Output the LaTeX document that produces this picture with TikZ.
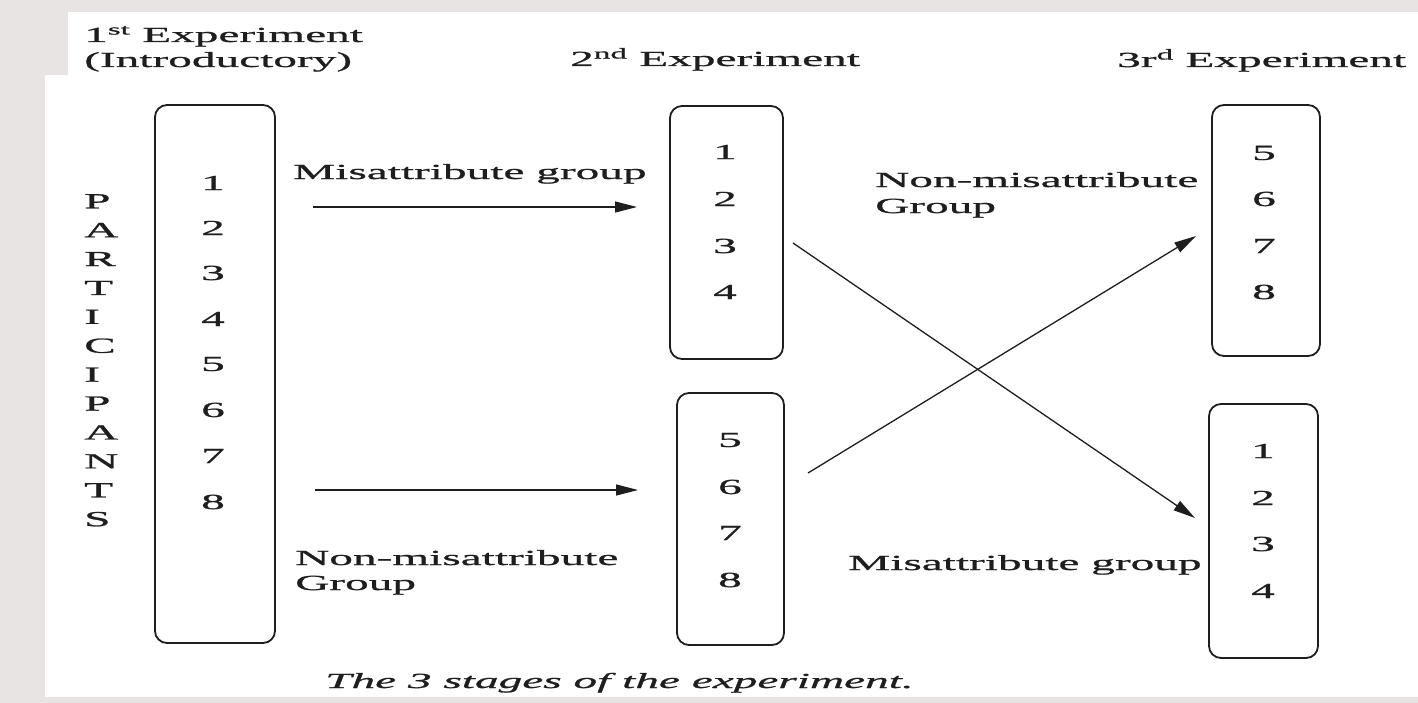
\documentclass[tikz,border=0pt]{standalone}
\usepackage{fontspec}
\setmainfont{Liberation Serif}[FakeStretch=2.2,FakeBold=1]
\usetikzlibrary{arrows.meta}
\definecolor{bgc}{HTML}{E9E4E4}
\definecolor{ink}{HTML}{1E1E1E}
\begin{document}
\begin{tikzpicture}[x=1bp,y=-1bp,
  every node/.style={inner sep=0pt,text=ink,font=\fontsize{21.5bp}{22.3bp}\selectfont},
  box/.style={draw=ink,line width=1.8bp,rounded corners=12bp,minimum width=#1},
  num/.style={anchor=center},
  lbl/.style={anchor=base west},
  arr/.style={draw=ink,line width=1.3bp,-{Triangle[length=22bp,width=11bp]}}]
\useasboundingbox (0,0) rectangle (1418,703);
\fill[bgc] (0,0) rectangle (1418,703);
\fill[white] (45,12) rectangle (1418,697);
\fill[bgc] (45,12) rectangle (68,75);
% boxes
\node[box=120bp,minimum height=538bp] (A) at (215,374) {};
\node[box=113bp,minimum height=253bp] (B1) at (726.5,232.5) {};
\node[box=107bp,minimum height=252bp] (B2) at (730.5,519) {};
\node[box=108bp,minimum height=251bp] (C1) at (1266,230.5) {};
\node[box=109bp,minimum height=254bp] (C2) at (1263.5,531) {};
% numbers
\foreach \n/\y in {1/183,2/228,3/273,4/319,5/364,6/410,7/456,8/502}
  \node[num] (a\n) at (213,\y) {\n};
\foreach \n/\y in {1/152,2/199,3/246,4/292}
  \node[num] (b\n) at (725,\y) {\n};
\foreach \n/\y in {5/440,6/487,7/533,8/580}
  \node[num] (bb\n) at (730,\y) {\n};
\foreach \n/\y in {5/153,6/199,7/246,8/292}
  \node[num] (c\n) at (1264,\y) {\n};
\foreach \n/\y in {1/451,2/498,3/544,4/591}
  \node[num] (cc\n) at (1263,\y) {\n};
% participants
\node[anchor=north west,align=left,font=\fontsize{21.5bp}{28.9bp}\selectfont] (part) at (84,194) {P\\A\\R\\T\\I\\C\\I\\P\\A\\N\\T\\S};
% headings
\node[lbl] (h1a) at (84,42) {1\textsuperscript{st} Experiment};
\node[lbl] (h1b) at (84,67) {(Introductory)};
\node[lbl] (h2) at (570,66) {2\textsuperscript{nd} Experiment};
\node[lbl] (h3) at (1117,67) {3r\textsuperscript{d} Experiment};
% group labels
\node[lbl] (m1) at (293,179) {Misattribute group};
\node[lbl] (n1a) at (295,565) {Non-misattribute};
\node[lbl] (n1b) at (295,590) {Group};
\node[lbl] (n2a) at (875,187) {Non-misattribute};
\node[lbl] (n2b) at (875,213) {Group};
\node[lbl] (m2) at (848,570) {Misattribute group};
\node[lbl] (cap) at (325,688) {\itshape The 3 stages of the experiment.};
% arrows
\coordinate (p1s) at (313,207);
\coordinate (p1e) at (637,207);
\coordinate (p2s) at (315,490);
\coordinate (p2e) at (638,490);
\coordinate (x1s) at (793,243);
\coordinate (x1e) at (1195,518);
\coordinate (x2s) at (808,473);
\coordinate (x2e) at (1196,236);
\draw[arr] (p1s) -- (p1e);
\draw[arr] (p2s) -- (p2e);
\draw[arr] (x1s) -- (x1e);
\draw[arr] (x2s) -- (x2e);
\end{tikzpicture}
\end{document}
